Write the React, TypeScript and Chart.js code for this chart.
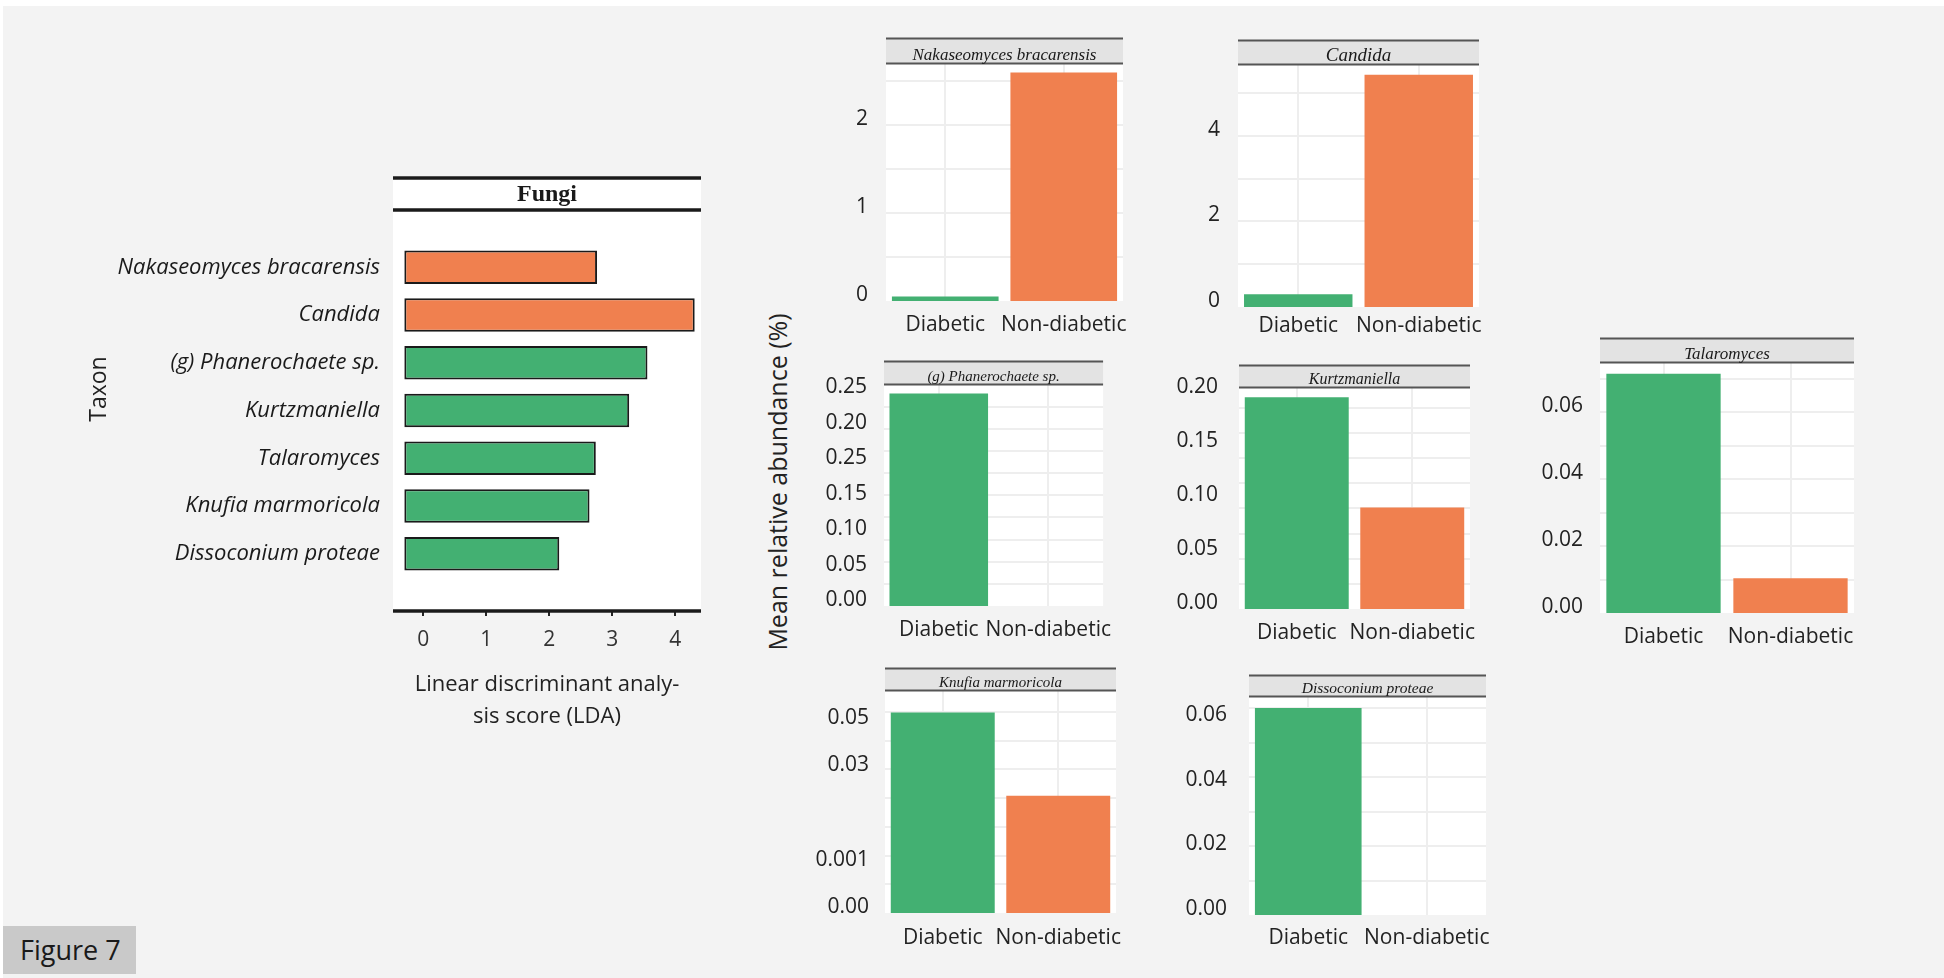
import React, { useEffect, useRef } from 'react';
import { Chart, registerables } from 'chart.js';

Chart.register(...registerables);

// ---------------- data ----------------
const TAXA = [
  'Nakaseomyces bracarensis',
  'Candida',
  '(g) Phanerochaete sp.',
  'Kurtzmaniella',
  'Talaromyces',
  'Knufia marmoricola',
  'Dissoconium proteae',
];
const LDA_SCORES = [2.76, 4.31, 3.56, 3.27, 2.74, 2.64, 2.16];
const LDA_GROUP = ['Non-diabetic', 'Non-diabetic', 'Diabetic', 'Diabetic', 'Diabetic', 'Diabetic', 'Diabetic'];
const LDA_BASE = -0.3;
const LDA_TICKS = [0, 1, 2, 3, 4];
const LDA_X_MIN = -0.48;
const LDA_X_MAX = 4.41;
const LDA_TITLE = 'Fungi';
const LDA_X_TITLE = ['Linear discriminant analy-', 'sis score (LDA)'];
const LDA_Y_TITLE = 'Taxon';

const GROUPS = ['Diabetic', 'Non-diabetic'];
const DIABETIC = [0.05, 0.30, 0.24, 0.196, 0.0715, 0.053, 0.064];
const NON_DIABETIC = [2.60, 5.43, 0, 0.094, 0.0104, 0.031, 0];
const Y_MAX = [2.70, 5.67, 0.25, 0.205, 0.0748, 0.0588, 0.0675];
const Y_TICK_VALUES = [
  [0, 1, 2],
  [0, 2, 4],
  [0, 0.04, 0.08, 0.12, 0.16, 0.2, 0.24],
  [0, 0.05, 0.1, 0.15, 0.2],
  [0, 0.02, 0.04, 0.06],
  [0, 0.0125, 0.0375, 0.05],
  [0, 0.02, 0.04, 0.06],
];
const Y_TICK_LABELS = [
  ['0', '1', '2'],
  ['0', '2', '4'],
  ['0.00', '0.05', '0.10', '0.15', '0.25', '0.20', '0.25'],
  ['0.00', '0.05', '0.10', '0.15', '0.20'],
  ['0.00', '0.02', '0.04', '0.06'],
  ['0.00', '0.001', '0.03', '0.05'],
  ['0.00', '0.02', '0.04', '0.06'],
];
const GRID_STEP = [0.5, 1, 0.025, 0.0233, 0.01, 0.0076, 0.01065];
const ABUNDANCE_Y_TITLE = 'Mean relative abundance (%)';
const FIGURE_LABEL = 'Figure 7';

// ---------------- styles / layout ----------------
const GREEN = '#43B072';
const ORANGE = '#F0804F';
const TEXT = '#222222';
const SANS = '"Open Sans", "Noto Sans", sans-serif';
const SERIF = '"Liberation Serif", "DejaVu Serif", serif';
const GRID = '#eeeeee';

// left (LDA) panel: plot rect in page coordinates
const LDA_BOX = { l: 393, t: 210, r: 701, b: 611, stripTop: 178, cl: 86, ct: 160, cr: 720, cb: 740, taxonX: 99, taxonY: 389 };

// small panels: plot rect, strip top, strip font size, y label pad, x label pad
const PANEL_BOX = [
  { l: 886, t: 62, r: 1123, b: 301, st: 37, fs: 17, yPad: 18, xPad: 11 },
  { l: 1238, t: 62, r: 1479, b: 307, st: 38, fs: 19, yPad: 18, xPad: 6 },
  { l: 884, t: 382, r: 1104, b: 606, st: 359, fs: 15, yPad: 17, xPad: 11 },
  { l: 1239, t: 380, r: 1470, b: 609, st: 358, fs: 16, yPad: 21, xPad: 11 },
  { l: 1600, t: 361, r: 1854, b: 613, st: 337, fs: 17, yPad: 17, xPad: 11 },
  { l: 885, t: 688, r: 1116, b: 913, st: 666, fs: 15, yPad: 16, xPad: 12 },
  { l: 1249, t: 687, r: 1486, b: 915, st: 666, fs: 15.5, yPad: 22, xPad: 10 },
];
const Y_AXIS_W = 90;
const X_AXIS_H = 45;
const PAD_R = 24;

function LdaChart() {
  const ref = useRef<HTMLCanvasElement>(null);
  useEffect(() => {
    const B = LDA_BOX;
    const stripH = B.t - B.stripTop;
    const deco = {
      id: 'ldaDeco',
      beforeDraw(chart: any) {
        const { ctx, chartArea: a } = chart;
        ctx.save();
        ctx.fillStyle = '#ffffff';
        ctx.fillRect(a.left, a.top - stripH - 2, a.right - a.left, a.bottom - a.top + stripH + 4);
        ctx.restore();
      },
      afterDraw(chart: any) {
        const { ctx, chartArea: a } = chart;
        ctx.save();
        ctx.strokeStyle = '#1a1a1a';
        ctx.lineWidth = 3.5;
        [a.top - stripH, a.top, a.bottom].forEach((y: number) => {
          ctx.beginPath();
          ctx.moveTo(a.left, y);
          ctx.lineTo(a.right, y);
          ctx.stroke();
        });
        ctx.fillStyle = '#1a1a1a';
        ctx.font = `bold 24px ${SERIF}`;
        ctx.textAlign = 'center';
        ctx.textBaseline = 'middle';
        ctx.fillText(LDA_TITLE, (a.left + a.right) / 2, a.top - stripH / 2 + 1);
        ctx.translate(B.taxonX - B.cl, B.taxonY - B.ct);
        ctx.rotate(-Math.PI / 2);
        ctx.font = `23px ${SANS}`;
        ctx.fillStyle = TEXT;
        ctx.fillText(LDA_Y_TITLE, 0, 0);
        ctx.restore();
      },
    };
    const chart = new Chart(ref.current!, {
      type: 'bar',
      data: {
        datasets: [
          {
            data: TAXA.map((_, i) => ({ x: [LDA_BASE, LDA_SCORES[i]], y: i })) as any,
            backgroundColor: LDA_GROUP.map((g) => (g === 'Diabetic' ? GREEN : ORANGE)),
            borderColor: '#1a1a1a',
            borderWidth: 2,
            borderSkipped: false,
            barPercentage: 0.7,
            categoryPercentage: 1,
          },
        ],
      },
      options: {
        indexAxis: 'y',
        animation: false,
        responsive: true,
        maintainAspectRatio: false,
        layout: { padding: { top: B.t - B.ct, right: B.cr - B.r, left: 0, bottom: 0 } },
        plugins: { legend: { display: false }, tooltip: { enabled: false } },
        scales: {
          x: {
            type: 'linear',
            min: LDA_X_MIN,
            max: LDA_X_MAX,
            afterBuildTicks: (s: any) => {
              s.ticks = LDA_TICKS.map((v) => ({ value: v }));
            },
            grid: { display: true, drawOnChartArea: false, drawTicks: true, tickLength: 5, color: '#222', lineWidth: 2 },
            border: { display: false },
            ticks: { font: { family: SANS, size: 21 }, color: '#333', padding: 11 },
            title: {
              display: true,
              text: LDA_X_TITLE,
              font: { family: SANS, size: 22, lineHeight: 1.47 },
              color: TEXT,
              padding: { top: 0, bottom: 7 },
            },
            afterFit: (s: any) => {
              s.height = B.cb - B.b;
            },
          },
          y: {
            type: 'linear',
            reverse: true,
            min: -0.6,
            max: TAXA.length - 0.4,
            afterBuildTicks: (s: any) => {
              s.ticks = TAXA.map((_, i) => ({ value: i }));
            },
            grid: { display: false, drawTicks: false },
            border: { display: false },
            ticks: {
              autoSkip: false,
              font: { family: SANS, size: 22, style: 'italic' },
              color: '#1a1a1a',
              padding: 13,
              callback: (v: any) => TAXA[Math.round(Number(v))],
            },
            afterFit: (s: any) => {
              s.width = B.l - B.cl;
            },
          },
        },
      } as any,
      plugins: [deco],
    });
    return () => chart.destroy();
  }, []);
  const B = LDA_BOX;
  return (
    <div style={{ position: 'absolute', left: B.cl, top: B.ct, width: B.cr - B.cl, height: B.cb - B.ct }}>
      <canvas ref={ref} />
    </div>
  );
}

function Panel({ idx }: { idx: number }) {
  const ref = useRef<HTMLCanvasElement>(null);
  const P = PANEL_BOX[idx];
  const cl = P.l - Y_AXIS_W;
  const ct = P.st - 4;
  const cw = P.r + PAD_R - cl;
  const ch = P.b + X_AXIS_H - ct;
  useEffect(() => {
    const stripH = P.t - P.st;
    const deco = {
      id: 'strip',
      beforeDraw(chart: any) {
        const { ctx, chartArea: a } = chart;
        ctx.save();
        ctx.fillStyle = '#ffffff';
        ctx.fillRect(a.left, a.top, a.right - a.left, a.bottom - a.top);
        ctx.restore();
      },
      afterDraw(chart: any) {
        const { ctx, chartArea: a } = chart;
        ctx.save();
        ctx.fillStyle = '#e3e3e3';
        ctx.fillRect(a.left, a.top - stripH, a.right - a.left, stripH);
        ctx.strokeStyle = '#555555';
        ctx.lineWidth = 2;
        [a.top - stripH, a.top].forEach((y: number) => {
          ctx.beginPath();
          ctx.moveTo(a.left, y);
          ctx.lineTo(a.right, y);
          ctx.stroke();
        });
        ctx.fillStyle = '#1a1a1a';
        ctx.font = `italic ${P.fs}px ${SERIF}`;
        ctx.textAlign = 'center';
        ctx.textBaseline = 'alphabetic';
        ctx.fillText(TAXA[idx], (a.left + a.right) / 2, a.top - 4);
        ctx.restore();
      },
    };
    const yMax = Y_MAX[idx];
    const step = GRID_STEP[idx];
    const chart = new Chart(ref.current!, {
      type: 'bar',
      data: {
        labels: GROUPS,
        datasets: [
          {
            data: [DIABETIC[idx], NON_DIABETIC[idx]],
            backgroundColor: [GREEN, ORANGE],
            borderWidth: 0,
            barPercentage: 0.9,
            categoryPercentage: 1,
          },
        ],
      },
      options: {
        animation: false,
        responsive: true,
        maintainAspectRatio: false,
        layout: { padding: { top: P.t - ct, right: PAD_R, left: 0, bottom: 0 } },
        plugins: { legend: { display: false }, tooltip: { enabled: false } },
        scales: {
          x: {
            type: 'category',
            offset: true,
            grid: { display: true, offset: false, drawTicks: false, color: GRID, lineWidth: 2 },
            border: { display: false },
            ticks: { font: { family: SANS, size: 21 }, color: TEXT, padding: P.xPad, autoSkip: false, maxRotation: 0 },
            afterFit: (s: any) => {
              s.height = X_AXIS_H;
            },
          },
          y: {
            type: 'linear',
            position: 'left',
            min: 0,
            max: yMax,
            afterBuildTicks: (s: any) => {
              s.ticks = Y_TICK_VALUES[idx].map((v) => ({ value: v }));
            },
            grid: { display: false, drawTicks: false },
            border: { display: false },
            ticks: {
              autoSkip: false,
              font: { family: SANS, size: 21 },
              color: TEXT,
              padding: P.yPad,
              labelOffset: -6,
              callback: (_v: any, k: number) => Y_TICK_LABELS[idx][k],
            },
            afterFit: (s: any) => {
              s.width = Y_AXIS_W;
            },
          },
          yg: {
            type: 'linear',
            position: 'left',
            min: 0,
            max: yMax,
            afterBuildTicks: (s: any) => {
              const t: any[] = [];
              for (let k = 1; k * step < yMax - step * 0.2; k++) t.push({ value: k * step });
              s.ticks = t;
            },
            grid: { display: true, drawTicks: false, color: GRID, lineWidth: 2 },
            border: { display: false },
            ticks: { display: false },
            afterFit: (s: any) => {
              s.width = 0;
            },
          },
        },
      } as any,
      plugins: [deco],
    });
    return () => chart.destroy();
  }, [idx]);
  return (
    <div style={{ position: 'absolute', left: cl, top: ct, width: cw, height: ch }}>
      <canvas ref={ref} />
    </div>
  );
}

export default function App() {
  return (
    <div style={{ position: 'fixed', left: 0, top: 0, width: 1944, height: 978, background: '#ffffff', overflow: 'hidden' }}>
      <div style={{ position: 'absolute', left: 3, top: 6, right: 0, bottom: 0, background: '#f3f3f3' }} />
      <LdaChart />
      {TAXA.map((_, i) => (
        <Panel key={i} idx={i} />
      ))}
      <div
        style={{
          position: 'absolute',
          left: 777,
          top: 482,
          transform: 'translate(-50%, -50%) rotate(-90deg)',
          whiteSpace: 'nowrap',
          fontFamily: SANS,
          fontSize: 25,
          color: TEXT,
        }}
      >
        {ABUNDANCE_Y_TITLE}
      </div>
      <div
        style={{
          position: 'absolute',
          left: 3,
          top: 926,
          width: 133,
          height: 48,
          background: '#c9c9c9',
          fontFamily: SANS,
          fontSize: 27,
          lineHeight: '48px',
          color: '#1a1a1a',
          paddingLeft: 17,
          boxSizing: 'border-box',
        }}
      >
        {FIGURE_LABEL}
      </div>
    </div>
  );
}
